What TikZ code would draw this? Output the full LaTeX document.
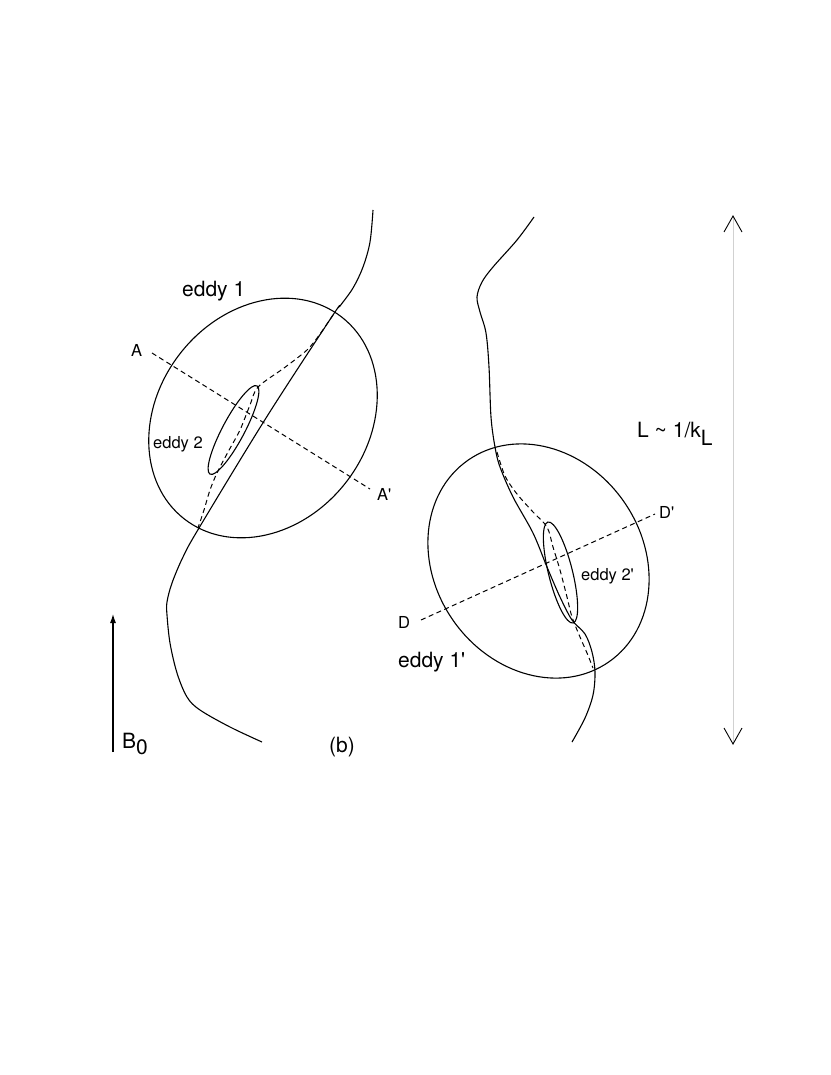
\documentclass[tikz,border=0pt]{standalone}
\usepackage{fontspec}
\setmainfont{TeX Gyre Heros}
\usetikzlibrary{arrows.meta,calc}
\begin{document}
\begin{tikzpicture}[x=1pt,y=-1pt,
  fieldline/.style={line width=1.1pt, smooth, tension=0.55},
  dashline/.style={line width=1pt, dash pattern=on 5pt off 3.5pt},
  eddyline/.style={line width=1.1pt},
  biglabel/.style={font=\fontsize{21}{24}\selectfont, inner sep=0pt, anchor=base west},
  smalllabel/.style={font=\fontsize{16.5}{19}\selectfont, inner sep=0pt, anchor=base west}]
\useasboundingbox (0,0) rectangle (830,1075);

% ---------- left panel ----------
\draw[eddyline, rotate around={52:(263,418)}] (263,418) ellipse (128 and 105);
\draw[eddyline, rotate around={62:(233.5,430)}] (233.5,430) ellipse (50 and 11);
\draw[fieldline] plot coordinates {(373,210) (370,242) (363,267) (353,288) (340,306) (333,315)
  (266,418) (199,528) (183,557) (172,583) (167,602) (167,615) (170,643) (177,673) (187,697)
  (200,710) (230,727) (262,742)};
\draw[dashline] plot[smooth, tension=0.5] coordinates {(333,315) (320,334) (307,350) (284,368) (258,387)
  (250,405) (240,430) (228,452) (217,473) (210,490) (204,510) (198,528)};
\coordinate (Astart) at (152,353);
\coordinate (Aend) at (370,489);
\draw[dashline] (Astart) -- (Aend);

\node[biglabel] (eddy1) at (182,296) {eddy 1};
\node[smalllabel] (eddy2) at (153,448) {eddy 2};
\node[smalllabel] (labA) at (131,356) {A};
\node[smalllabel] (labAp) at (377,500) {A\textquotesingle};

% ---------- right panel ----------
\draw[eddyline, rotate around={-55:(538.5,561)}] (538.5,561) ellipse (123 and 104);
\draw[eddyline, rotate around={104:(560.5,572.5)}] (560.5,572.5) ellipse (52 and 12);
\draw[fieldline] plot coordinates {(534,217) (517,240) (493,267) (482,282) (477,297) (480,312)
  (486,333) (489,367) (491,417) (495,447) (500,467) (513,497) (533,533) (547,567)
  (560,597) (572,620) (585,634) (592,652) (595,672) (593,695) (585,718) (572,742)};
\draw[dashline] plot[smooth, tension=0.5] coordinates {(497,452) (505,476) (517,494) (533,512) (547,527)
  (553,547) (560,570) (567,597) (572,617) (580,637) (587,653) (593,668)};
\coordinate (Dstart) at (421,620);
\coordinate (Dend) at (655,514);
\draw[dashline] (Dstart) -- (Dend);

\node[biglabel] (eddy1p) at (398,667) {eddy 1\textquotesingle};
\node[smalllabel] (eddy2p) at (581,580) {eddy 2\textquotesingle};
\node[smalllabel] (labD) at (398,628) {D};
\node[smalllabel] (labDp) at (659,518) {D\textquotesingle};

% ---------- scale arrow ----------
\coordinate (Ltop) at (733,216);
\coordinate (Lbot) at (733,744);
\draw[line width=0.8pt, black!18] (Ltop) -- (Lbot);
\draw[line width=0.9pt] ($(Ltop)+(-9,16)$) -- (Ltop) -- ($(Ltop)+(9,16)$);
\draw[line width=0.9pt] ($(Lbot)+(-9,-16)$) -- (Lbot) -- ($(Lbot)+(9,-16)$);
\node[biglabel] (Llab) at (637,437) {L \textasciitilde{} 1/k\raisebox{-8pt}{L}};

% ---------- B0 arrow ----------
\coordinate (Bbot) at (113,752);
\coordinate (Btop) at (113,614);
\draw[line width=1.1pt, -{Latex[length=9pt,width=6pt]}] (Bbot) -- (Btop);
\node[biglabel] (B0) at (122,748) {B\raisebox{-6pt}{0}};
\node[biglabel] (bl) at (329,752) {(b)};
\end{tikzpicture}
\end{document}
